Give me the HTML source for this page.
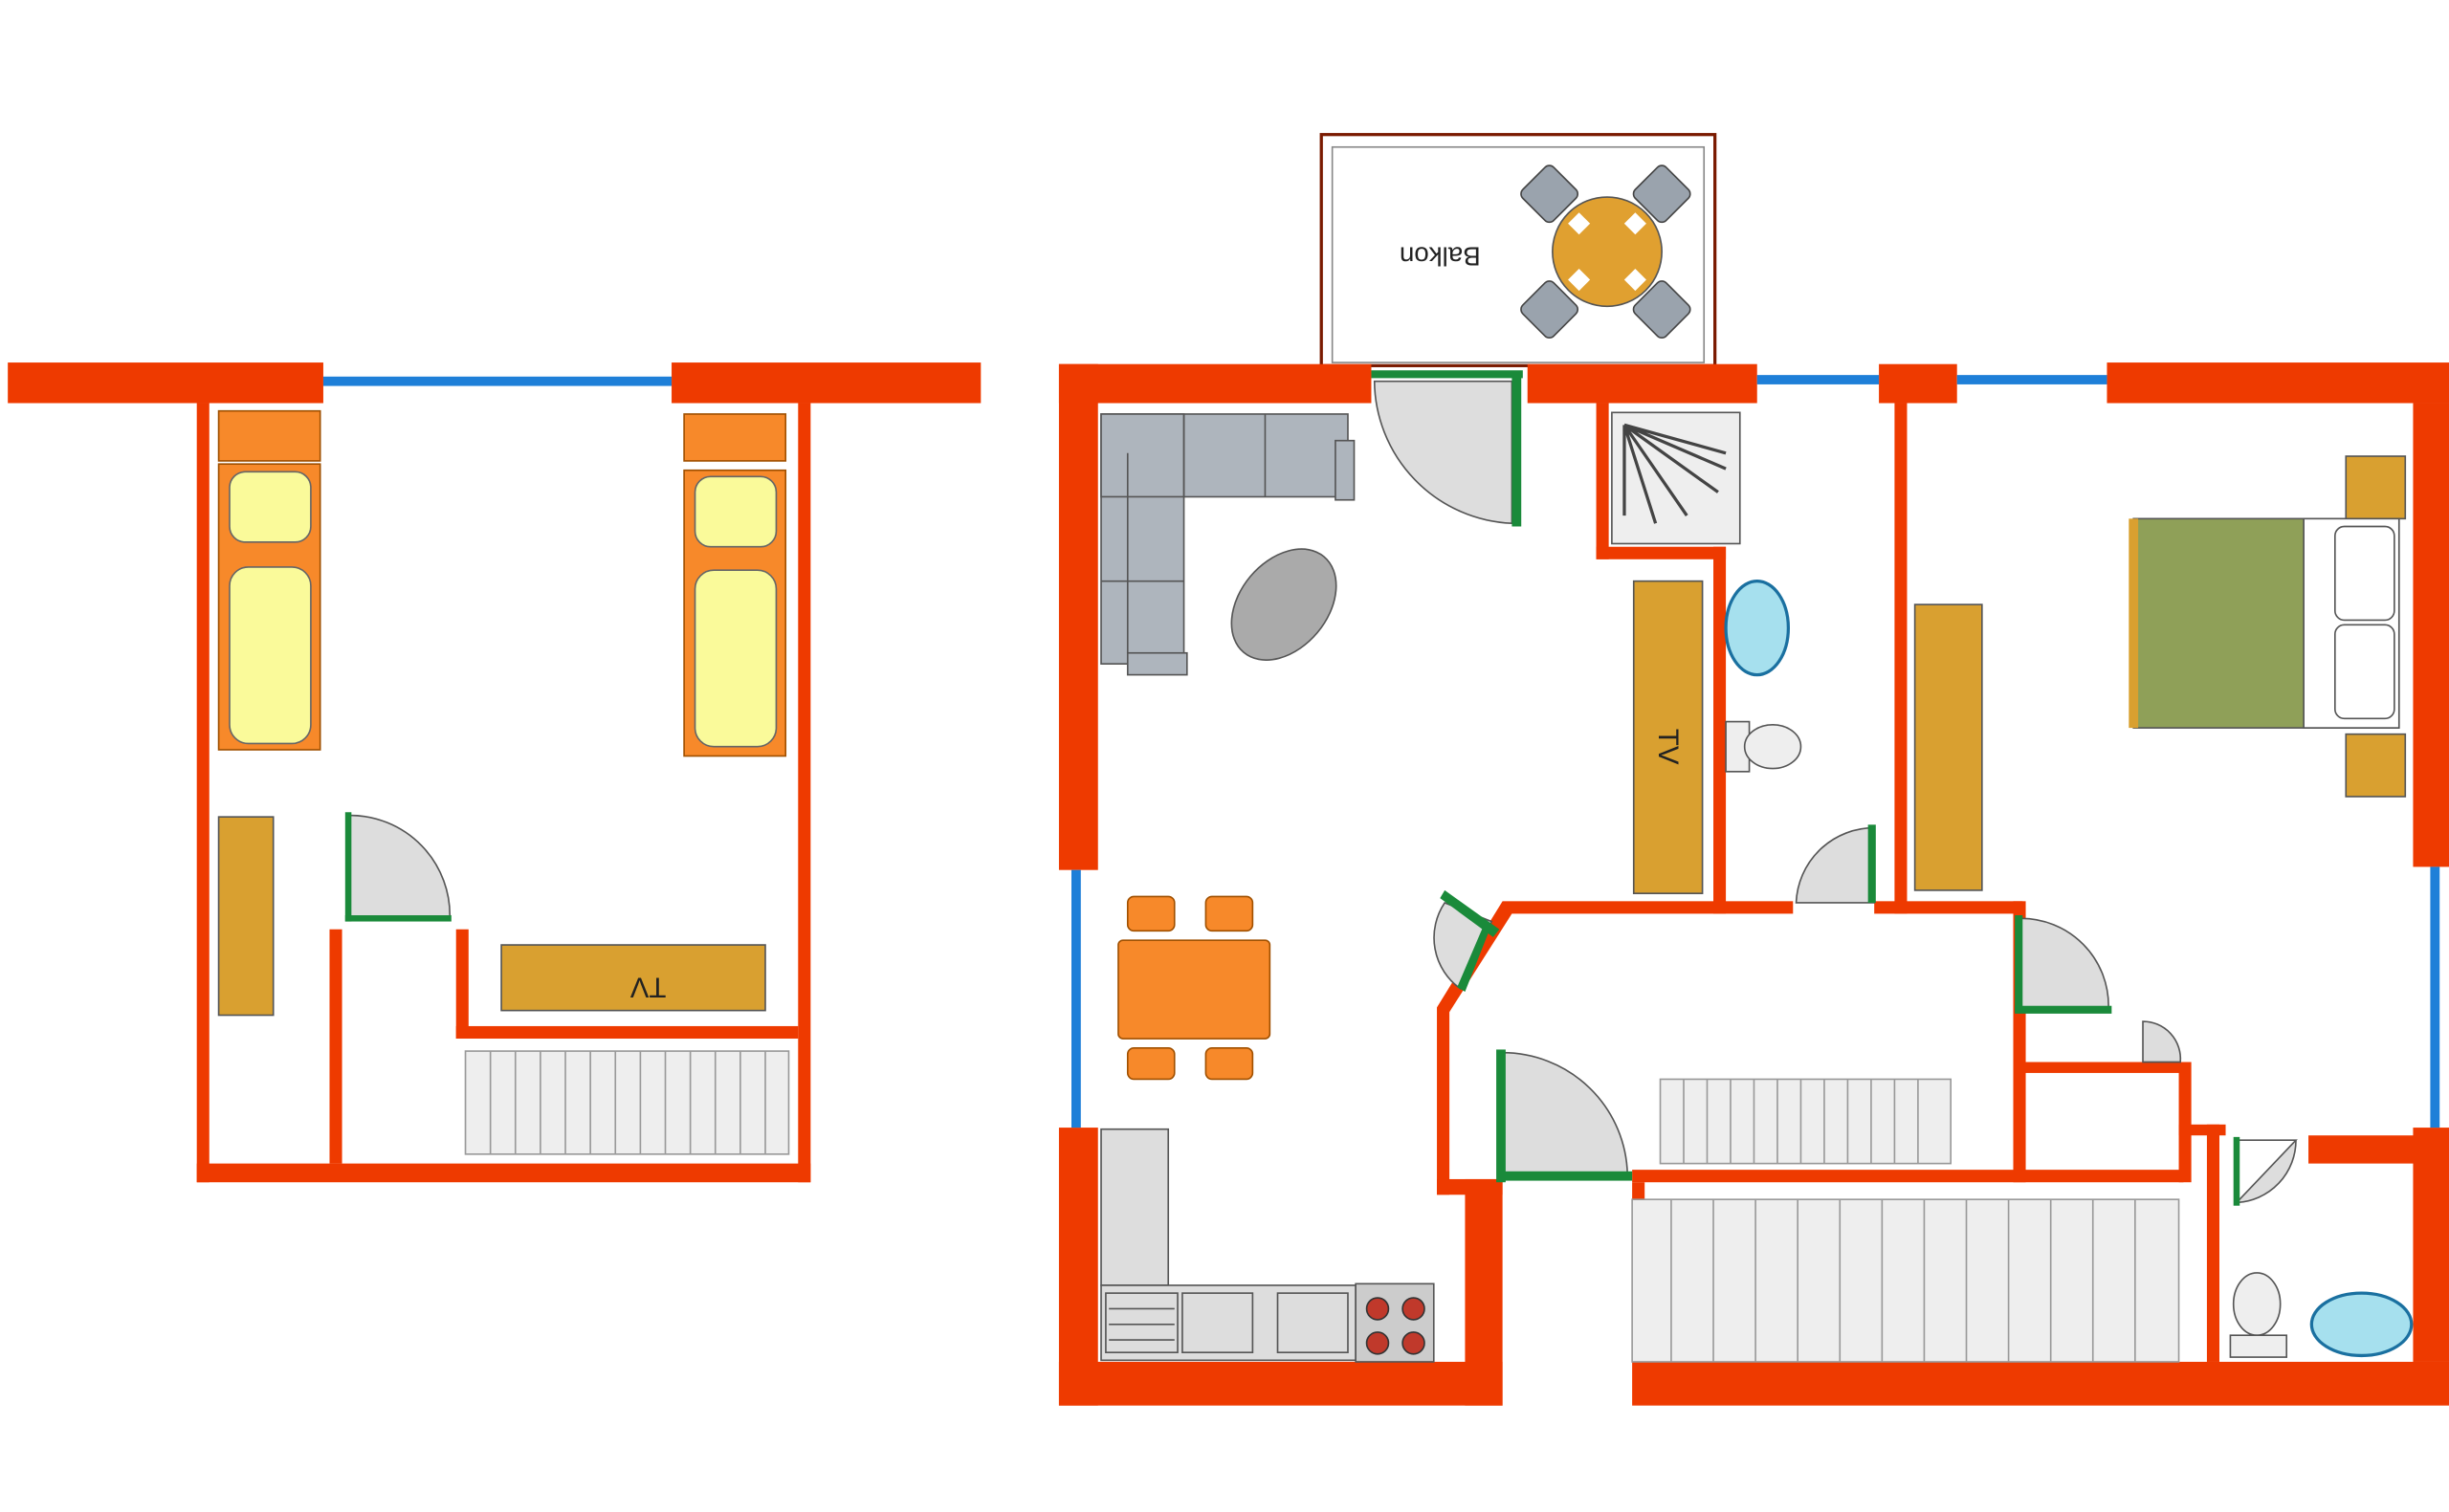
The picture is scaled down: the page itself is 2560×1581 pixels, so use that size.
<!DOCTYPE html>
<html><head><meta charset="utf-8"><style>html,body{margin:0;padding:0;background:#fff}svg{display:block}</style></head>
<body>
<svg width="2560" height="1581" viewBox="0 0 1568 968" xmlns="http://www.w3.org/2000/svg" font-family="Liberation Sans, sans-serif">
<rect width="1568" height="968" fill="#fff"/>
<!-- ============ LEFT UNIT ============ -->
<g fill="#ee3a00">
<rect x="5" y="232" width="202" height="26"/>
<rect x="430" y="232" width="198" height="26"/>
<rect x="126" y="258" width="8" height="499"/>
<rect x="126" y="745" width="393" height="12"/>
<rect x="511" y="258" width="8" height="499"/>
<rect x="211" y="595" width="8" height="150"/>
<rect x="292" y="595" width="8" height="70"/>
<rect x="292" y="657" width="219" height="8"/>
</g>
<rect x="207" y="241" width="223" height="6" fill="#1e7fd8"/>
<path d="M224,522 A64,64 0 0 1 288,588 L224,588 Z" fill="#ddd" stroke="#555" stroke-width="1"/>
<rect x="221" y="520" width="4" height="70" fill="#1a8a3a"/>
<rect x="221" y="586" width="68" height="4" fill="#1a8a3a"/>
<g stroke="#a05000" stroke-width="1">
<rect x="140" y="263" width="65" height="32" fill="#f7892a"/>
<rect x="140" y="297" width="65" height="183" fill="#f7892a"/>
<rect x="438" y="265" width="65" height="30" fill="#f7892a"/>
<rect x="438" y="301" width="65" height="183" fill="#f7892a"/>
</g>
<g fill="#fafa9a" stroke="#666" stroke-width="1">
<rect x="147" y="302" width="52" height="45" rx="10"/>
<rect x="147" y="363" width="52" height="113" rx="12"/>
<rect x="445" y="305" width="52" height="45" rx="10"/>
<rect x="445" y="365" width="52" height="113" rx="12"/>
</g>
<g fill="#d9a030" stroke="#555" stroke-width="1">
<rect x="140" y="523" width="35" height="127"/>
<rect x="321" y="605" width="169" height="42"/>
</g>
<text x="405" y="626" font-size="18" text-anchor="middle" transform="rotate(180 410 626)" fill="#222">TV</text>
<rect x="298" y="673" width="207" height="66" fill="#eee" stroke="#999"/>
<path d="M314,673V739M330,673V739M346,673V739M362,673V739M378,673V739M394,673V739M410,673V739M426,673V739M442,673V739M458,673V739M474,673V739M490,673V739" stroke="#999"/>

<!-- ============ RIGHT UNIT ============ -->
<rect x="846" y="86" width="252" height="148" fill="#fff" stroke="#7a1a00" stroke-width="2"/>
<rect x="853" y="94" width="238" height="138" fill="none" stroke="#888" stroke-width="1"/>
<text x="922" y="158" font-size="17" text-anchor="middle" transform="rotate(180 922 158)" fill="#222">Balkon</text>
<g fill="#9aa3ad" stroke="#444" stroke-width="1">
<rect x="978" y="110" width="28" height="28" rx="4" transform="rotate(45 992 124)"/>
<rect x="1050" y="110" width="28" height="28" rx="4" transform="rotate(45 1064 124)"/>
<rect x="978" y="184" width="28" height="28" rx="4" transform="rotate(45 992 198)"/>
<rect x="1050" y="184" width="28" height="28" rx="4" transform="rotate(45 1064 198)"/>
</g>
<circle cx="1029" cy="161" r="35" fill="#e0a030" stroke="#555" stroke-width="1"/>
<g fill="#fff"><rect x="1006" y="138" width="10" height="10" transform="rotate(45 1011 143)"/><rect x="1042" y="138" width="10" height="10" transform="rotate(45 1047 143)"/><rect x="1006" y="174" width="10" height="10" transform="rotate(45 1011 179)"/><rect x="1042" y="174" width="10" height="10" transform="rotate(45 1047 179)"/></g>

<g fill="#ee3a00">
<rect x="678" y="233" width="200" height="25"/>
<rect x="678" y="233" width="25" height="324"/>
<rect x="678" y="722" width="25" height="178"/>
<rect x="678" y="872" width="284" height="28"/>
<rect x="938" y="755" width="24" height="145"/>
<rect x="1045" y="872" width="523" height="28"/>
<rect x="1045" y="757" width="8" height="115"/>
<rect x="978" y="233" width="147" height="25"/>
<rect x="1203" y="233" width="50" height="25"/>
<rect x="1349" y="232" width="219" height="26"/>
<rect x="1545" y="258" width="23" height="297"/>
<rect x="1545" y="722" width="23" height="150"/>
<rect x="1022" y="258" width="8" height="100"/>
<rect x="1022" y="350" width="83" height="8"/>
<rect x="1097" y="350" width="8" height="235"/>
<rect x="1213" y="258" width="8" height="327"/>
<rect x="962" y="577" width="186" height="8"/>
<rect x="1200" y="577" width="95" height="8"/>
<rect x="1289" y="577" width="8" height="180"/>
<rect x="1045" y="749" width="353" height="8"/>
<rect x="1290" y="680" width="110" height="7"/>
<rect x="1395" y="680" width="8" height="77"/>
<rect x="1395" y="720" width="30" height="7"/>
<rect x="1413" y="720" width="8" height="152"/>
<rect x="1478" y="727" width="70" height="18"/>
<rect x="920" y="645" width="8" height="120"/>
<rect x="920" y="755" width="42" height="10"/>
<polygon points="962,577 968,585 928,648 920,645"/>
</g>
<rect x="686" y="557" width="6" height="165" fill="#1e7fd8"/>
<rect x="1556" y="555" width="6" height="167" fill="#1e7fd8"/>
<rect x="1125" y="240" width="78" height="6" fill="#1e7fd8"/>
<rect x="1253" y="240" width="96" height="6" fill="#1e7fd8"/>

<g fill="#ddd" stroke="#555" stroke-width="1">
<path d="M880,244 L968,244 L968,335 A92,92 0 0 1 880,244 Z"/>
<path d="M1200,530 L1200,578 L1150,578 A50,50 0 0 1 1200,530 Z"/>
<path d="M1294,588 L1294,645 L1350,645 A56,56 0 0 0 1294,588 Z"/>
<path d="M1372,654 L1372,680 L1396,680 A24,24 0 0 0 1372,654 Z"/>
<path d="M1432,730 L1470,730 L1432,770 A40,40 0 0 0 1470,730 Z"/>
<path d="M962,674 L962,752 L1042,752 A80,80 0 0 0 962,674 Z"/>
<path d="M955,590 L935,633 A40,40 0 0 1 925,578 Z"/>
</g>
<g fill="#1a8a3a">
<rect x="878" y="237" width="97" height="5"/>
<rect x="968" y="240" width="6" height="97"/>
<rect x="1196" y="528" width="5" height="50"/>
<rect x="1290" y="586" width="5" height="62"/>
<rect x="1290" y="644" width="62" height="5"/>
<rect x="1430" y="728" width="4" height="44"/>
<rect x="958" y="672" width="6" height="85"/>
<rect x="960" y="750" width="85" height="6"/>
<polygon points="925,570 960,595 956,600 922,575"/>
<polygon points="955,592 938,635 933,632 951,590"/>
</g>

<g fill="#aeb5bd" stroke="#555" stroke-width="1">
<rect x="705" y="265" width="158" height="53"/>
<rect x="705" y="265" width="53" height="160"/>
<rect x="722" y="418" width="38" height="14"/>
<rect x="855" y="282" width="12" height="38"/>
</g>
<path d="M758,265V318M810,265V318M705,318H758M705,372H758M722,290V418" stroke="#555" fill="none"/>
<ellipse cx="822" cy="387" rx="28" ry="40" transform="rotate(40 822 387)" fill="#aaa" stroke="#555"/>

<g fill="#f7892a" stroke="#a05000" stroke-width="1">
<rect x="716" y="602" width="97" height="63" rx="3"/>
<rect x="722" y="574" width="30" height="22" rx="4"/>
<rect x="772" y="574" width="30" height="22" rx="4"/>
<rect x="722" y="671" width="30" height="20" rx="4"/>
<rect x="772" y="671" width="30" height="20" rx="4"/>
</g>
<g fill="#ddd" stroke="#555" stroke-width="1">
<rect x="705" y="723" width="43" height="100"/>
<rect x="705" y="823" width="163" height="48"/>
<rect x="757" y="828" width="45" height="38"/>
<rect x="818" y="828" width="45" height="38"/>
<rect x="708" y="828" width="46" height="38"/>
</g>
<path d="M710,838H752M710,848H752M710,858H752" stroke="#555"/>
<rect x="868" y="822" width="50" height="50" fill="#ccc" stroke="#555"/>
<g fill="#c0392b" stroke="#333"><circle cx="882" cy="838" r="7"/><circle cx="905" cy="838" r="7"/><circle cx="882" cy="860" r="7"/><circle cx="905" cy="860" r="7"/></g>

<rect x="1032" y="264" width="82" height="84" fill="#eee" stroke="#555"/>
<path d="M1040,272 L1040,330 M1040,272 L1105,290 M1040,272 L1060,335 M1040,272 L1080,330 M1040,272 L1100,315 M1040,272 L1105,300" stroke="#444" stroke-width="2" fill="none"/>
<ellipse cx="1125" cy="402" rx="20" ry="30" fill="#a6e0ee" stroke="#1a70a0" stroke-width="2"/>
<rect x="1105" y="462" width="15" height="32" fill="#eee" stroke="#555"/>
<ellipse cx="1135" cy="478" rx="18" ry="14" fill="#eee" stroke="#555"/>
<g fill="#d9a030" stroke="#555">
<rect x="1046" y="372" width="44" height="200"/>
<rect x="1226" y="387" width="43" height="183"/>
</g>
<text x="1068" y="484" font-size="18" text-anchor="middle" transform="rotate(90 1068 478)" fill="#222">TV</text>

<g fill="#d9a030" stroke="#555">
<rect x="1502" y="292" width="38" height="40"/>
<rect x="1502" y="470" width="38" height="40"/>
</g>
<rect x="1366" y="332" width="170" height="134" fill="#8fa058" stroke="#555"/>
<rect x="1475" y="332" width="61" height="134" fill="#fff" stroke="#555"/>
<rect x="1495" y="337" width="38" height="60" rx="6" fill="#fff" stroke="#555"/>
<rect x="1495" y="400" width="38" height="60" rx="6" fill="#fff" stroke="#555"/>
<rect x="1363" y="332" width="6" height="134" fill="#d9a030"/>

<rect x="1063" y="691" width="186" height="54" fill="#eee" stroke="#999"/>
<path d="M1078,691V745M1093,691V745M1108,691V745M1123,691V745M1138,691V745M1153,691V745M1168,691V745M1183,691V745M1198,691V745M1213,691V745M1228,691V745" stroke="#999"/>
<rect x="1045" y="768" width="350" height="104" fill="#eee" stroke="#999"/>
<path d="M1070,768V872M1097,768V872M1124,768V872M1151,768V872M1178,768V872M1205,768V872M1232,768V872M1259,768V872M1286,768V872M1313,768V872M1340,768V872M1367,768V872" stroke="#999"/>
<ellipse cx="1445" cy="835" rx="15" ry="20" fill="#eee" stroke="#555"/>
<rect x="1428" y="855" width="36" height="14" fill="#eee" stroke="#555"/>
<ellipse cx="1512" cy="848" rx="32" ry="20" fill="#a6e0ee" stroke="#1a70a0" stroke-width="2"/>
</svg>
</body></html>
